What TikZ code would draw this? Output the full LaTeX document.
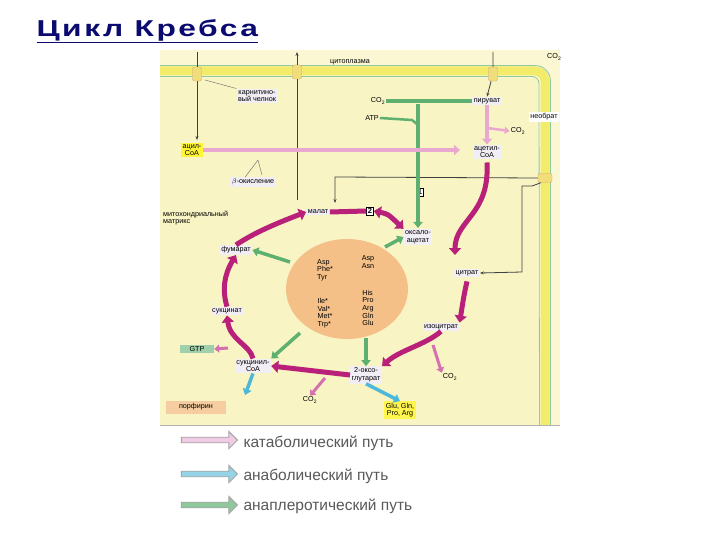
\documentclass[tikz,border=0pt]{standalone}
\usepackage{fontspec}
\usepackage{graphicx}
\setmainfont{Liberation Sans}
\usetikzlibrary{arrows.meta,shapes.arrows}
\definecolor{mem}{HTML}{F2EC6A}
\definecolor{matr}{HTML}{F8F4C4}
\definecolor{cyto}{HTML}{FAF7D2}
\definecolor{mag}{HTML}{B8207A}
\definecolor{lpink}{HTML}{E8A8D0}
\definecolor{grn}{HTML}{5DB070}
\definecolor{cyan}{HTML}{4FB8D8}
\definecolor{orng}{HTML}{F4C088}
\definecolor{lbl}{HTML}{F2EEF6}
\definecolor{navy}{HTML}{0A0A70}
\tikzset{
 lb/.style={fill=lbl,inner sep=1.5pt,font=\fontsize{7.2}{7.6}\selectfont,align=center},
 tx/.style={inner sep=1pt,font=\fontsize{7.2}{7.6}\selectfont,align=center},
 fat/.style={line width=5pt,draw=mag,-{Triangle[length=7pt,width=12pt]}},
 fatp/.style={line width=4pt,draw=lpink,-{Triangle[length=6pt,width=10pt]}},
 fatg/.style={line width=3.5pt,draw=grn,-{Triangle[length=6pt,width=9pt]}},
 fatc/.style={line width=3.5pt,draw=cyan,-{Triangle[length=6pt,width=9pt]}},
 thin/.style={draw=black!75,line width=0.8pt,-{Stealth[length=4pt]}},
 chan/.style={fill=yellow!60!brown!60,draw=brown!70,rounded corners=2pt,minimum width=9pt,minimum height=14pt,inner sep=0pt},
 leg/.style={single arrow,draw=gray!70,line width=0.9pt,minimum height=56pt,minimum width=17pt,single arrow head extend=3pt,inner sep=1pt},
 legt/.style={anchor=west,text=black!65,font=\fontsize{15.5}{17}\selectfont}
}
\begin{document}
\begin{tikzpicture}[x=1pt,y=-1pt]
\useasboundingbox (0,0) rectangle (720,540);
\fill[white] (0,0) rectangle (720,540);
\node[anchor=west,text=navy,font=\bfseries\fontsize{23}{26}\selectfont\addfontfeature{LetterSpace=8}] (title) at (33,31) {\underline{\scalebox{1.38}[1]{Цикл Кребса}}};
% panel
\fill[cyto] (160,50) rectangle (560,425);
\fill[matr] (160,78) -- (538,78) -- (538,425) -- (160,425) -- cycle;
\draw[mem,line width=9pt] (160,71) -- (535,71) arc (-90:0:10) -- (545,425);
\draw[grn!70,line width=0.8pt] (160,76.5) -- (532,76.5) arc (-90:0:7) -- (539.5,425);
\draw[grn!70,line width=0.8pt] (160,65.5) -- (535,65.5) arc (-90:0:15.5) -- (550.5,425);
\draw[gray!60] (160,425) -- (560,425);
\node[tx] (cyt) at (350,62) {цитоплазма};
\node[tx,anchor=west] (co2o) at (546,57) {CO\textsubscript{2}};
\node[chan] (t1) at (197,74) {};
\node[chan] (t2) at (297,72) {};
\node[chan] (t3) at (493,74) {};
\node[chan,minimum width=14pt,minimum height=9pt] (t4) at (545,178) {};
% labels
\node[lb] (carn) at (257,96) {карнитино-\\вый челнок};
\node[tx] (co2a) at (378,101) {CO\textsubscript{2}};
\node[tx] (atp) at (372,118) {ATP};
\node[lb] (pyr) at (487,101) {пируват};
\node[lb,fill=white] (neo) at (544,117) {необрат};
\node[tx] (co2b) at (518,131) {CO\textsubscript{2}};
\node[lb,fill=yellow!80] (acyl) at (192,150) {ацил-\\CoA};
\node[lb] (acet) at (487,152) {ацетил-\\CoA};
\node[lb] (beta) at (253,182) {$\beta$-окисление};
\node[draw,fill=white,inner sep=1.5pt,font=\bfseries\fontsize{7.5}{8}\selectfont] (one) at (420,192) {1};
\node[tx,align=left,anchor=west] (mat) at (162,218) {митохондриальный\\матрикс};
\node[lb] (mal) at (318,212) {малат};
\node[draw,fill=white,inner sep=1.5pt,font=\bfseries\fontsize{7.5}{8}\selectfont] (two) at (370,211) {2};
\node[lb] (oxa) at (418,237) {оксало-\\ацетат};
\node[lb] (fum) at (236,250) {фумарат};
\node[lb] (cit) at (467,273) {цитрат};
\node[lb] (suc) at (227,311) {сукцинат};
\node[lb] (iso) at (441,327) {изоцитрат};
\node[lb,fill=grn!60,minimum width=34pt] (gtp) at (197,349) {GTP};
\node[lb] (scoa) at (253,366) {сукцинил-\\CoA};
\node[lb] (oxg) at (366,375) {2-оксо-\\глутарат};
\node[tx] (co2c) at (450,377) {CO\textsubscript{2}};
\node[tx] (co2d) at (310,400) {CO\textsubscript{2}};
\node[lb,fill=orng!80,minimum width=60pt,minimum height=13pt] (por) at (196,407) {порфирин};
\node[lb,fill=yellow!70] (glu) at (400,410) {Glu, Gln,\\Pro, Arg};
% ellipse
\fill[orng] (347,289) ellipse (61 and 50);
\node[tx,align=left] (aa1) at (325,270) {Asp\\Phe*\\Tyr};
\node[tx,align=left] (aa2) at (368,262) {Asp\\Asn};
\node[tx,align=left] (aa3) at (325,313) {Ile*\\Val*\\Met*\\Trp*};
\node[tx,align=left] (aa4) at (368,308) {His\\Pro\\Arg\\Gln\\Glu};
% transport arrows
\draw[thin] (197,52) -- (t1) -- (197,140);
\draw[thin] (297,200) -- (t2) -- (297,52);
\draw[thin] (493,52) -- (t3) -- (pyr.north);
\draw[black!60] (carn.north west) -- (205,80);
\draw[black!60] (beta.north) ++(-8,0) -- (258,160) -- (262,175);
\draw[thin] (t4.west) -- (335,177) -- (335,203);
\draw[thin] (t4.south) ++(-4,0) -- (532,186) -- (522,186) -- (522,272) -- (cit.east);
% green anaplerotic
\draw[grn,line width=3.5pt] (pyr.west) -- (413,101);
\draw[grn,line width=3.5pt] (co2a.east) -- (413,101);
\draw[fatg] (418,104) -- (418,228);
\draw[grn,line width=3.5pt] (418,101) -- (413,101);
\draw[grn,line width=2.5pt] (atp.east) -- (412,120) -- (418,125);
% pink
\draw[fatp] (acyl.east) -- (460,150);
\draw[fatp] (pyr.south) -- (acet.north);
\draw[lpink,line width=2.5pt,-{Triangle[length=5pt,width=7pt]}] (487,128) -- (co2b.west);
% cycle
\draw[fat] (acet.south) ++(0,3) .. controls (490,215) and (455,220) .. (455,255);
\draw[fat] (cit.south) ++(0,4) .. controls (464,295) .. (iso.north east);
\draw[fat] (iso.south) .. controls (425,345) and (400,350) .. (oxg.north east);
\draw[lpink!60!mag,line width=3pt,-{Triangle[length=5pt,width=8pt]}] (433,345) -- (co2c.north west);
\draw[fat] (oxg.west) -- (scoa.east);
\draw[lpink!60!mag,line width=3pt,-{Triangle[length=5pt,width=8pt]}] (325,378) -- (co2d.north);
\draw[fat] (scoa.north) .. controls (250,345) and (230,340) .. (suc.south);
\draw[lpink!60!mag,line width=3pt,-{Triangle[length=5pt,width=8pt]}] (228,348) -- (gtp.east);
\draw[fat] (suc.north) .. controls (222,290) and (224,275) .. (fum.south);
\draw[fat] (fum.north) .. controls (255,232) and (280,222) .. (mal.west);
\draw[line width=5pt,draw=mag,{Triangle[length=7pt,width=12pt]}-{Triangle[length=7pt,width=12pt]}] (mal.east) -- (two.west) (two.east) .. controls (388,214) .. (oxa.north west);
% green from ellipse
\draw[fatg] (290,262) -- (fum.east);
\draw[fatg] (385,247) -- (oxa.west);
\draw[fatg] (300,333) -- (scoa.north east);
\draw[fatg] (366,338) -- (oxg.north);
% blue
\draw[fatc] (scoa.south) -- (245,395);
\draw[fatc] (oxg.south) -- (glu.north);
% legend
\node[leg,fill=lpink!60] (l1) at (208,440) {};
\node[leg,fill=cyan!60] (l2) at (208,474) {};
\node[leg,fill=grn!70] (l3) at (208,505) {};
\node[legt] (t1l) at (240,443) {катаболический путь};
\node[legt] (t2l) at (240,476) {анаболический путь};
\node[legt] (t3l) at (240,506) {анаплеротический путь};
\end{tikzpicture}
\end{document}
